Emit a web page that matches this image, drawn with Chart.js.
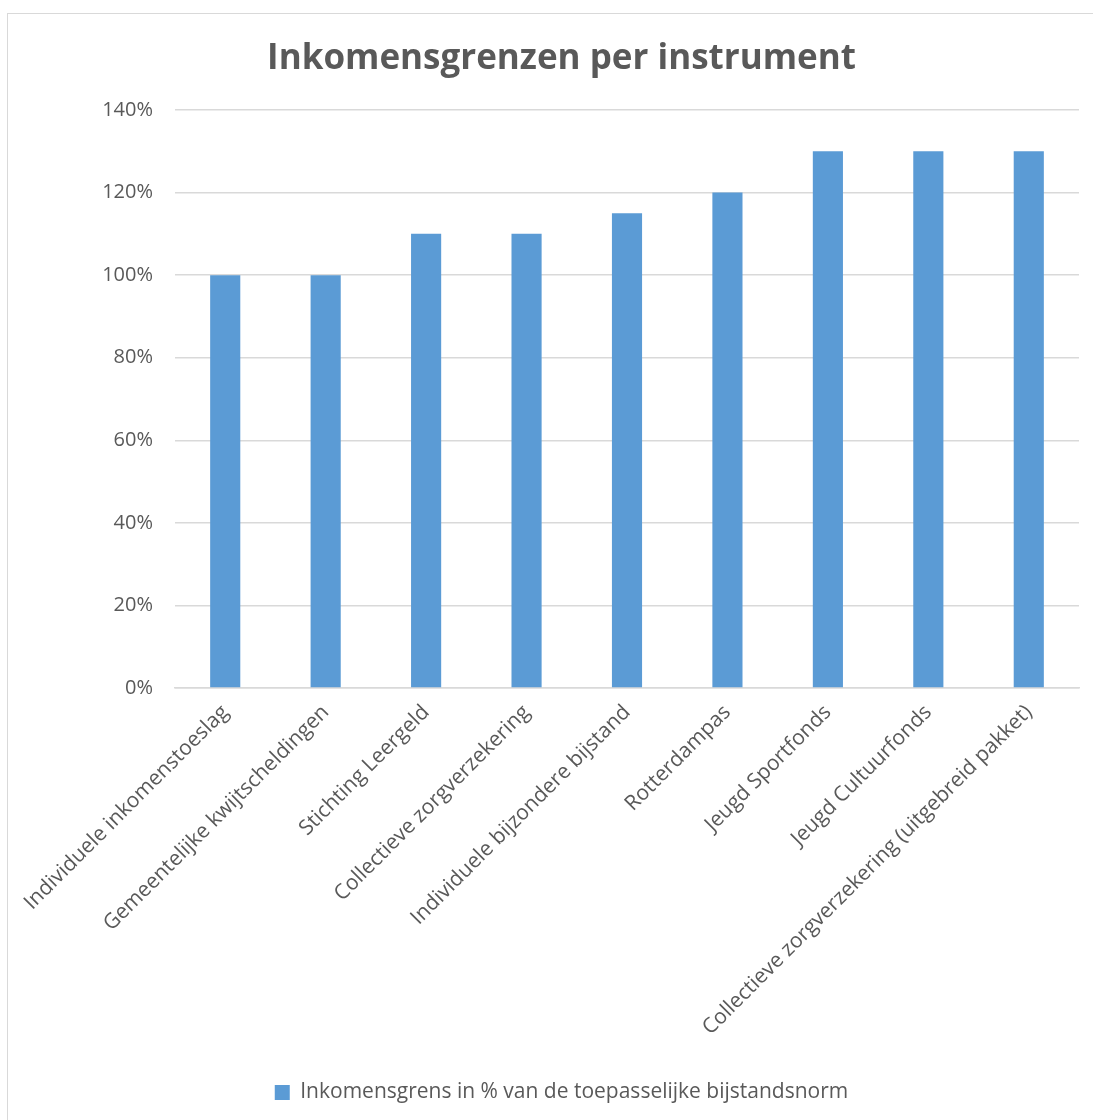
<!DOCTYPE html>
<html>
<head>
<meta charset="utf-8">
<script src="https://cdn.jsdelivr.net/npm/chart.js@4.4.1/dist/chart.umd.min.js"></script>
<style>
  html, body { margin: 0; padding: 0; background: #fff; }
  #frame {
    position: absolute; left: 7px; top: 13px;
    width: 1086px; height: 1107px;
    border-left: 1px solid #d9d9d9; border-top: 1px solid #d9d9d9;
  }
  #wrap { position: absolute; left: 0; top: 0; width: 1086px; height: 1107px; }
</style>
</head>
<body>
<div id="frame"><div id="wrap"><canvas id="chart"></canvas></div></div>
<script>
const categories = [
    'Individuele inkomenstoeslag',
    'Gemeentelijke kwijtscheldingen',
    'Stichting Leergeld',
    'Collectieve zorgverzekering',
    'Individuele bijzondere bijstand',
    'Rotterdampas',
    'Jeugd Sportfonds',
    'Jeugd Cultuurfonds',
    'Collectieve zorgverzekering (uitgebreid pakket)'
];
const grensValues = [100, 100, 110, 110, 115, 120, 130, 130, 130];
const seriesLabel = 'Inkomensgrens in % van de toepasselijke bijstandsnorm';
const chartTitle = 'Inkomensgrenzen per instrument';

const textGrey = '#595959';
const fontName = "'Open Sans', 'Noto Sans', sans-serif";

const ctx = document.getElementById('chart').getContext('2d');
new Chart(ctx, {
    type: 'bar',
    data: {
        labels: categories,
        datasets: [{
            label: seriesLabel,
            data: grensValues,
            backgroundColor: '#5b9bd5',
            borderWidth: 0,
            barPercentage: 0.3,
            categoryPercentage: 1.0
        }]
    },
    options: {
        responsive: true,
        maintainAspectRatio: false,
        animation: false,
        layout: { padding: { left: 36, right: 15, top: 24, bottom: 8 } },
        plugins: {
            title: {
                display: true,
                text: chartTitle,
                color: textGrey,
                font: { family: fontName, size: 35, weight: 'bold' },
                padding: { top: 0, bottom: 30 }
            },
            legend: {
                position: 'bottom',
                labels: {
                    color: textGrey,
                    font: { family: fontName, size: 21 },
                    boxWidth: 15,
                    boxHeight: 15,
                    padding: 10
                }
            },
            tooltip: { enabled: false }
        },
        scales: {
            x: {
                grid: { display: false },
                border: { display: true, color: '#d9d9d9', width: 1.5 },
                ticks: {
                    color: textGrey,
                    font: { family: fontName, size: 21 },
                    minRotation: 45,
                    maxRotation: 45,
                    autoSkip: false,
                    padding: 4
                },
                afterFit: function(scale) { scale.height = 384; }
            },
            y: {
                min: 0,
                max: 140,
                ticks: {
                    stepSize: 20,
                    color: textGrey,
                    font: { family: fontName, size: 20 },
                    padding: 22,
                    callback: function(v) { return v + '%'; }
                },
                grid: { color: '#d9d9d9', lineWidth: 1.5, drawTicks: false },
                border: { display: false },
                afterFit: function(scale) { scale.width = 131; }
            }
        }
    }
});
</script>
</body>
</html>
